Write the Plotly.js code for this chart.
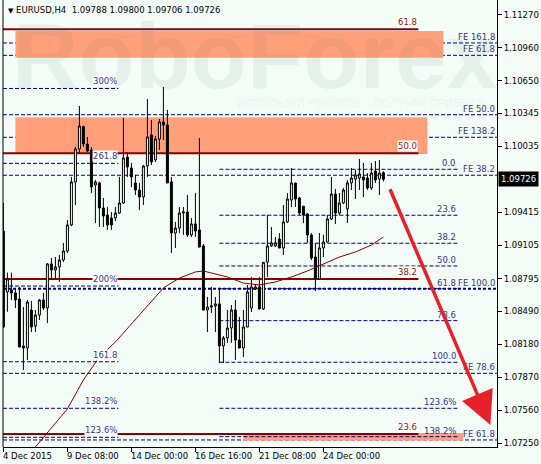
<!DOCTYPE html>
<html><head><meta charset="utf-8">
<script src="https://cdn.plot.ly/plotly-3.0.1.min.js"></script>
<style>html,body{margin:0;padding:0;background:#f3fcf7;}</style>
</head><body><div id="chart" style="width:541px;height:464px;"></div>
<script>
// ---- EURUSD H4 bars ----
const barOpen = [1.09241,1.08669,1.08688,1.08660,1.08603,1.08163,1.08144,1.08500,1.08350,1.08453,
1.08594,1.08519,1.08932,1.08875,1.08904,1.08969,1.09054,1.09298,1.09701,1.10010,
1.10220,1.10057,1.10001,1.09673,1.09692,1.09457,1.09391,1.09363,1.09363,1.09410,
1.09504,1.09935,1.09832,1.09692,1.09626,1.09560,1.09851,1.10142,1.09907,1.10104,
1.10264,1.10236,1.09701,1.09222,1.09269,1.09410,1.09419,1.09204,1.09307,1.09251,
1.09101,1.08500,1.08528,1.08538,1.08557,1.08163,1.08238,1.08331,1.08500,1.08219,
1.08144,1.08341,1.08519,1.08697,1.08716,1.08510,1.08950,1.09101,1.09101,1.09166,
1.09082,1.09326,1.09532,1.09690,1.09551,1.09474,1.09401,1.09204,1.08997,1.08791,
1.09082,1.09138,1.09354,1.09588,1.09410,1.09504,1.09448,1.09692,1.09729,1.09738,
1.09748,1.09738,1.09645,1.09804,1.09729,1.09788];
const barHigh = [1.09504,1.08850,1.08850,1.08707,1.08716,1.08528,1.08594,1.08585,1.08500,1.08603,
1.08660,1.08941,1.08988,1.08997,1.09016,1.09129,1.09344,1.09748,1.10029,1.10414,
1.10230,1.10123,1.10029,1.09720,1.09705,1.09551,1.09466,1.09419,1.09466,1.09748,
1.10301,1.09982,1.09879,1.09767,1.09692,1.09860,1.10479,1.10282,1.10132,1.10292,
1.10592,1.10376,1.09748,1.09326,1.09466,1.09466,1.09579,1.09363,1.09598,1.10114,
1.09119,1.08622,1.08716,1.08622,1.08707,1.08256,1.08500,1.08547,1.08594,1.08435,
1.08500,1.08735,1.08810,1.08735,1.08810,1.08950,1.09391,1.09279,1.09185,1.09222,
1.09485,1.09598,1.09832,1.09695,1.09560,1.09476,1.09410,1.09222,1.09129,1.09222,
1.09204,1.09391,1.09748,1.09635,1.09598,1.09645,1.09720,1.09832,1.09813,1.09917,
1.09879,1.09785,1.09879,1.09898,1.09907,1.09800];
const barLow = [1.08331,1.08484,1.08594,1.08519,1.08150,1.07937,1.08031,1.08294,1.08294,1.08406,
1.08500,1.08378,1.08782,1.08791,1.08763,1.08950,1.09035,1.09288,1.09485,1.09964,
1.10029,1.09982,1.09598,1.09316,1.09279,1.09279,1.09251,1.09251,1.09335,1.09401,
1.09495,1.09748,1.09654,1.09579,1.09438,1.09485,1.09748,1.09860,1.09888,1.10001,
1.10095,1.09690,1.09035,1.09082,1.09222,1.09204,1.09185,1.09185,1.09185,1.09088,
1.08497,1.08294,1.08472,1.08294,1.08003,1.08003,1.08191,1.08191,1.08031,1.08140,
1.08059,1.08338,1.08481,1.08688,1.08507,1.08500,1.08810,1.09091,1.09091,1.09080,
1.09016,1.09316,1.09466,1.09466,1.09391,1.09316,1.09129,1.08969,1.08678,1.08782,
1.08997,1.09135,1.09344,1.09307,1.09391,1.09495,1.09316,1.09626,1.09541,1.09626,
1.09560,1.09626,1.09626,1.09692,1.09579,1.09706];
const barClose = [1.08341,1.08791,1.08660,1.08594,1.08153,1.08144,1.08575,1.08341,1.08453,1.08594,
1.08519,1.08932,1.08875,1.08904,1.08969,1.09054,1.09298,1.09701,1.10010,1.10226,
1.10057,1.09992,1.09654,1.09701,1.09457,1.09382,1.09298,1.09298,1.09410,1.09504,
1.09926,1.09842,1.09748,1.09626,1.09560,1.09851,1.10123,1.09888,1.10104,1.10264,
1.10236,1.09692,1.09222,1.09269,1.09410,1.09419,1.09204,1.09307,1.09241,1.09091,
1.08500,1.08528,1.08538,1.08557,1.08163,1.08238,1.08331,1.08500,1.08219,1.08144,
1.08341,1.08669,1.08716,1.08716,1.08510,1.08948,1.09101,1.09129,1.09129,1.09082,
1.09326,1.09541,1.09692,1.09541,1.09410,1.09391,1.09204,1.08988,1.08791,1.09082,
1.09138,1.09354,1.09588,1.09410,1.09504,1.09626,1.09692,1.09738,1.09767,1.09776,
1.09720,1.09645,1.09785,1.09720,1.09785,1.09726];

// moving average (dark red line), sampled bars
const maBar = [8,12,16,20,24,28,32,36,40,44,48,50,52,56,60,64,68,72,76,80,84,88,92,95];
const maValue = [1.07215,1.07393,1.07572,1.07844,1.08059,1.08200,1.08369,1.08528,1.08707,1.08800,
1.08857,1.08866,1.08847,1.08810,1.08753,1.08735,1.08763,1.08810,1.08866,1.08932,1.08997,1.09044,1.09110,1.09185];

// x-axis labels
const timeTickBars = [0,16,32,48,64,80];
const timeTickLabels = ['4 Dec 2015','9 Dec 08:00','14 Dec 00:00','16 Dec 16:00','21 Dec 08:00','24 Dec 00:00'];
// y-axis labels
const priceTicks = ['1.11270','1.10960','1.10650','1.10345','1.10035','1.09415','1.09105','1.08795','1.08490','1.08180','1.07870','1.07560','1.07250'];

// left Fibonacci expansion
const extLabels = ['300%','261.8','200%','161.8','138.2%','123.6%'];
const extLevels = [1.10578,1.09876,1.08725,1.08015,1.07578,1.07306];
// right Fibonacci retracement
const retLabels = ['0.0','23.6','38.2','50.0','61.8','78.6','100.0','123.6%','138.2%'];
const retLevels = [1.09820,1.09389,1.09126,1.08913,1.08700,1.08400,1.08010,1.07578,1.07312];
// FE targets (full width)
const feLabels = ['FE 161.8','FE 61.8','FE 50.0','FE 138.2','FE 38.2','FE 100.0','FE 78.6','FE 61.8'];
const feLevels = [1.11005,1.10889,1.10332,1.10120,1.09764,1.08700,1.07906,1.07281];
// dark red fibo levels
const redLabels = ['61.8','50.0','38.2','23.6'];
const redLevels = [1.11133,1.09970,1.08791,1.07337];
// salmon target zones
const zoneTop = [1.11117,1.10308,1.07346];
const zoneBottom = [1.10867,1.09964,1.07276];
const zoneFromBar = [3,3,60];
const zoneToBar = [110,106,115];
// forecast arrow
const arrowFrom = {bar: 96.5, price: 1.09647};
const arrowTo = {bar: 121.75, price: 1.07421};

// ---- build ----
const BG = '#f3fcf7';
const NAVY = '#000080';
const LBL = '#35358f';
const DRED = '#8b0000';
const FONT = 'DejaVu Sans';
const FS = 8.5;
const barIndex = barOpen.map((_, i) => i);

const shapes = [];
const annotations = [];
zoneTop.forEach((t, i) => shapes.push({type:'rect', xref:'x', yref:'y', x0:zoneFromBar[i], x1:zoneToBar[i], y0:zoneBottom[i], y1:t, fillcolor:'#ffa07a', line:{width:0}, layer:'below'}));

// watermark first (underneath labels)
annotations.push({xref:'paper', yref:'paper', x:0.51, y:0.875, xanchor:'center', yanchor:'middle', text:'<b>RoboForex</b>', showarrow:false, font:{family:'Liberation Sans', size:92, color:'rgba(80,100,100,0.075)'}});
annotations.push({xref:'paper', yref:'paper', x:0.47, y:0.77, xanchor:'left', yanchor:'middle', text:'ИСПОЛЬЗУЙ РОБОТОВ – ПОЛУЧАЙ ПРИБЫЛЬ', showarrow:false, font:{family:'Liberation Sans', size:11, color:'rgba(80,100,100,0.07)'}});

redLevels.forEach((v, i) => {
  shapes.push({type:'line', xref:'x', yref:'y', x0:-0.1, x1:103.75, y0:v, y1:v, line:{color:DRED, width:2}, layer:'below'});
  annotations.push({xref:'x', yref:'y', x:103.75, y:v, xanchor:'right', yanchor:'bottom', text:redLabels[i], showarrow:false, font:{family:FONT, size:FS, color:'#8b1a00'}, bgcolor:'#ffffff', borderpad:0, yshift:1});
});
extLevels.forEach((v, i) => {
  shapes.push({type:'line', xref:'x', yref:'y', x0:-0.1, x1:28.75, y0:v, y1:v, line:{color:NAVY, width:1, dash:'4px,2px'}, layer:'below'});
  annotations.push({xref:'x', yref:'y', x:28.75, y:v, xanchor:'right', yanchor:'bottom', text:extLabels[i], showarrow:false, font:{family:FONT, size:FS, color:LBL}, bgcolor:'#ffffff', borderpad:0, yshift:1});
});
retLevels.forEach((v, i) => {
  shapes.push({type:'line', xref:'x', yref:'y', x0:54, x1:113.75, y0:v, y1:v, line:{color:NAVY, width:1, dash:'4px,2px'}, layer:'below'});
  annotations.push({xref:'x', yref:'y', x:113.5, y:v, xanchor:'right', yanchor:'bottom', text:retLabels[i], showarrow:false, font:{family:FONT, size:FS, color:LBL}, borderpad:0, yshift:0});
});
feLevels.forEach((v, i) => {
  const bold = feLabels[i] === 'FE 100.0';
  shapes.push({type:'line', xref:'paper', yref:'y', x0:0, x1:1, y0:v, y1:v, line:{color:NAVY, width:bold ? 2 : 1, dash:bold ? '3px,2px' : '4px,2px'}, layer:'below'});
  annotations.push({xref:'paper', yref:'y', x:1, y:v, xanchor:'right', yanchor:'bottom', xshift:-1, text:feLabels[i], showarrow:false, font:{family:FONT, size:FS, color:LBL}, borderpad:0, yshift:0});
});
shapes.push({type:'line', xref:'paper', yref:'paper', x0:0, x1:0, y0:0, y1:1, line:{color:'#000', width:1}});

// time labels, left-aligned at their tick like the terminal draws them
timeTickBars.forEach((b, i) => annotations.push({xref:'x', yref:'paper', x:b, y:0, xanchor:'left', yanchor:'top', xshift:-2, yshift:-2, text:timeTickLabels[i], showarrow:false, font:{family:FONT, size:FS, color:'#000'}}));

// header
const n = barOpen.length - 1;
annotations.push({xref:'paper', yref:'paper', x:0, y:1, xanchor:'left', yanchor:'top', xshift:3, yshift:-3, showarrow:false,
  text:'<span style="font-size:7px">▼</span> EURUSD,H4  ' + [barOpen[n], barHigh[n], barLow[n], barClose[n]].map(v => v.toFixed(5)).join(' '),
  font:{family:FONT, size:FS, color:'#000'}});
// current price tag
annotations.push({xref:'paper', yref:'y', x:1, y:barClose[n], xanchor:'left', yanchor:'middle', xshift:1, showarrow:false, text:barClose[n].toFixed(5), bgcolor:'#000', borderpad:2, font:{family:FONT, size:FS, color:'#fff'}});
// forecast arrow
annotations.push({xref:'x', yref:'y', axref:'x', ayref:'y', x:arrowTo.bar, y:arrowTo.price, ax:arrowFrom.bar, ay:arrowFrom.price, text:'', showarrow:true, arrowhead:2, arrowsize:1.9, arrowwidth:3.5, arrowcolor:'#e8202a'});

const traces = [
  {type:'scatter', mode:'lines', x:maBar, y:maValue, line:{color:DRED, width:1}, hoverinfo:'skip', showlegend:false},
  {type:'candlestick', x:barIndex, open:barOpen, high:barHigh, low:barLow, close:barClose,
   increasing:{line:{color:'#000', width:1}, fillcolor:'#ffffff'},
   decreasing:{line:{color:'#000', width:1}, fillcolor:'#000000'},
   whiskerwidth:0, hoverinfo:'skip', showlegend:false}
];

const layout = {
  width:541, height:464, margin:{l:3, r:44, t:0, b:17},
  paper_bgcolor:BG, plot_bgcolor:BG, showlegend:false,
  xaxis:{range:[-0.1,123.4], tickvals:timeTickBars, showticklabels:false,
    ticks:'outside', ticklen:4, tickcolor:'#000', showline:true, linecolor:'#000', linewidth:1, showgrid:false, zeroline:false,
    rangeslider:{visible:false}, fixedrange:true},
  yaxis:{side:'right', range:[1.07215,1.11408], tickvals:priceTicks.map(Number), ticktext:priceTicks,
    ticks:'outside', ticklen:4, tickcolor:'#000', showline:true, linecolor:'#000', linewidth:1, showgrid:false, zeroline:false,
    tickfont:{family:FONT, size:FS, color:'#000'}, fixedrange:true},
  shapes:shapes, annotations:annotations
};
Plotly.newPlot('chart', traces, layout, {staticPlot:true, displayModeBar:false});
</script></body></html>
